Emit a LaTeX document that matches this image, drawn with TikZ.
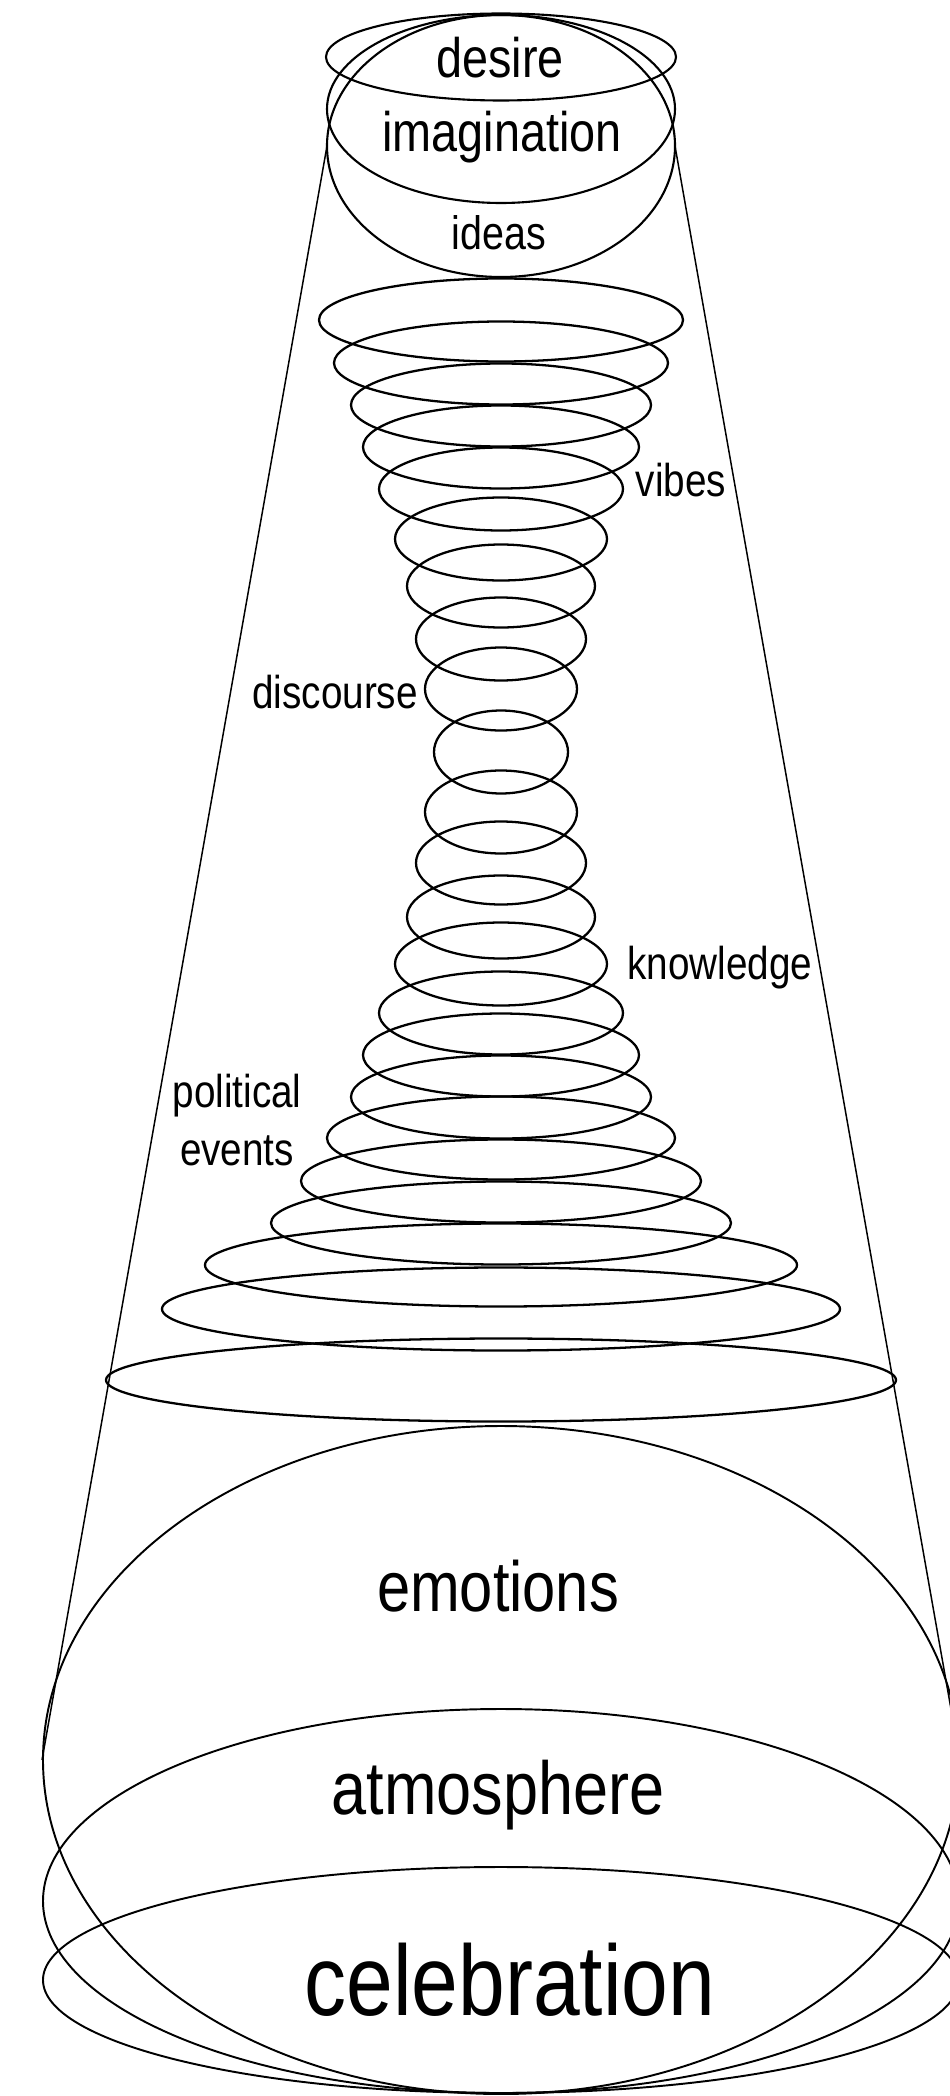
\documentclass[tikz,border=0pt]{standalone}
\usepackage{fontspec}
\setmainfont{Liberation Sans}[FakeStretch=0.84]
\usetikzlibrary{positioning}

\begin{document}
\begin{tikzpicture}[
  x=0.2mm, y=-0.2mm,
  every node/.style={inner sep=0pt, anchor=base},
  topring/.style={line width=1.2pt, draw=black},
  ring/.style={line width=1.3pt, draw=black},
  bowl/.style={line width=1.1pt, draw=black},
  side/.style={line width=0.85pt, draw=black},
  smalllab/.style={font=\fontsize{26.2pt}{30pt}\selectfont},
  midlab/.style={font=\fontsize{31.7pt}{36pt}\selectfont}
]
  \useasboundingbox (0,0) rectangle (950,2096);
  \clip (0,0) rectangle (950,2096);
  % ----- head: desire / imagination / ideas -----
  \draw[topring] (501,57) ellipse [x radius=175, y radius=43.5];
  \draw[topring] (501,109) ellipse [x radius=174, y radius=94];
  \draw[topring] (501,146) ellipse [x radius=174, y radius=131];
  % ----- stacked rings (narrowest near the middle) -----
  \foreach \cy/\rx in {320/182, 363/167, 405/150, 447/138, 489/122,
                       539/106, 586/94, 639/85, 689/76, 752/67,
                       812/76, 863/85, 917/94, 964/106, 1013/122,
                       1055/138, 1097/150, 1138/174, 1181/200, 1223/230,
                       1265/296, 1309/339, 1380/395}
    \draw[ring] (501,\cy) ellipse [x radius=\rx, y radius=41.5];
  % ----- bottom bowls -----
  \draw[bowl] (501,1760) ellipse [x radius=458, y radius=334];
  \draw[bowl] (501,1901) ellipse [x radius=458, y radius=192];
  \draw[bowl] (501,1980) ellipse [x radius=458, y radius=113];
  % ----- cone sides -----
  \coordinate (coneTL) at (327,146);
  \coordinate (coneTR) at (675,146);
  \coordinate (coneBL) at (42,1760);
  \coordinate (coneBR) at (960,1760);
  \draw[side] (coneTL) -- (coneBL);
  \draw[side] (coneTR) -- (coneBR);
  % ----- labels -----
  \node[midlab] (desire) at (500,78) {desire};
  \node[midlab] (imagination) at (502,152) {imagination};
  \node[font=\fontsize{26.7pt}{30pt}\selectfont] (ideas) at (499,250) {ideas};
  \node[smalllab] (vibes) at (681,496) {vibes};
  \node[smalllab] (discourse) at (335,708) {discourse};
  \node[smalllab] (knowledge) at (720,979) {knowledge};
  \node[smalllab] (political) at (237,1107) {political};
  \node[smalllab] (events) at ([yshift=-11.6mm]political.base) {events};
  \node[font=\fontsize{40.4pt}{46pt}\selectfont] (emotions) at (498,1611) {emotions};
  \node[font=\fontsize{42.7pt}{48pt}\selectfont] (atmosphere) at (498,1814) {atmosphere};
  \node[font=\fontsize{56.9pt}{64pt}\selectfont] (celebration) at (510,2015) {celebration};
\end{tikzpicture}
\end{document}
